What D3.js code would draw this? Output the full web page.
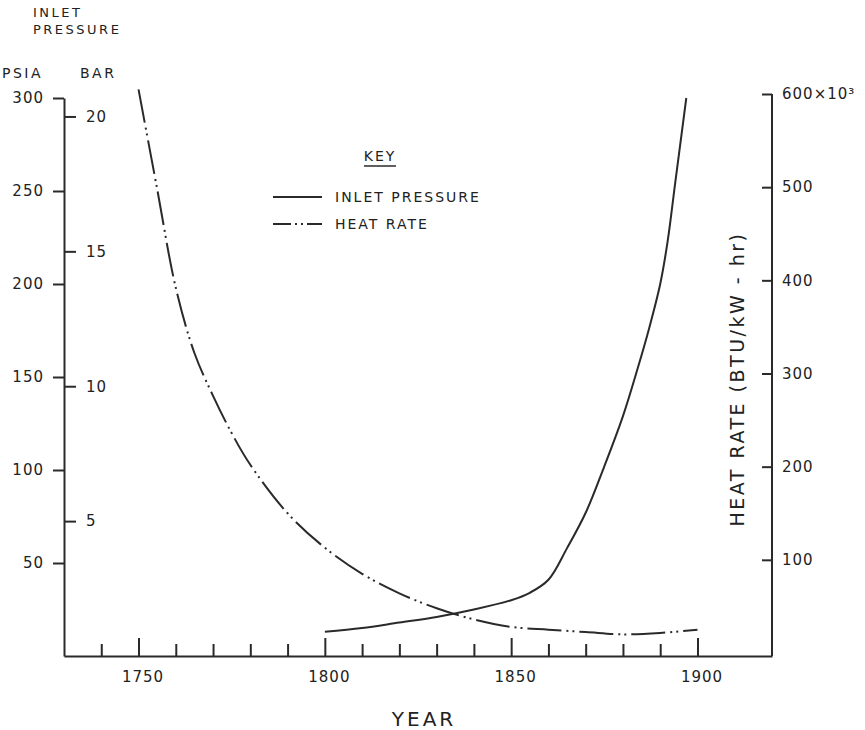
<!DOCTYPE html>
<html>
<head>
<meta charset="utf-8">
<script src="https://cdn.jsdelivr.net/npm/d3@7"></script>
<style>
  body { margin: 0; background: #fff; }
  svg text { font-family: "DejaVu Sans", sans-serif; fill: #222; }
</style>
</head>
<body>
<svg id="chart"></svg>
<script>
// chart size
var width = 865;
var height = 730;

// Data: inlet pressure (psia) and heat rate (10^3 BTU/kW-hr) by year
var pressureYears = [1800, 1810, 1820, 1830, 1840, 1850, 1855, 1860, 1865, 1870, 1875, 1880, 1884, 1887, 1890, 1892, 1894, 1897];
var pressurePsia  = [13, 15, 18, 21, 25, 30, 34, 41, 58, 77, 102, 129, 155, 176, 200, 223, 254, 300];

var heatYears = [1750, 1755, 1760, 1765, 1770, 1775, 1780, 1790, 1800, 1810, 1820, 1830, 1840, 1850, 1860, 1870, 1880, 1890, 1900];
var heatRate  = [605, 498, 392, 322, 276, 236, 202, 150, 113, 85, 64, 48, 36, 28, 25, 22.5, 20, 21.5, 25];

// tick values
var yearTicks = d3.range(1740, 1901, 10);
var psiaTicks = [50, 100, 150, 200, 250, 300];
var barTicks = [5, 10, 15, 20];
var heatTicks = [100, 200, 300, 400, 500, 600];

var svg = d3.select("#chart")
    .attr("width", width)
    .attr("height", height);

// Scales
var x = d3.scaleLinear().domain([1730, 1920]).range([64, 772]);
var yP = d3.scaleLinear().domain([0, 300]).range([656, 98]);
var yB = d3.scaleLinear().domain([0, 300 / 14.5038]).range([656, 98]);
var yH = d3.scaleLinear().domain([0, 600]).range([653, 94]);

var ink = "#2a2a2a";

function styleAxis(g) {
    g.selectAll("path, line").attr("stroke", ink).attr("stroke-width", 2);
    g.selectAll("text")
        .attr("font-family", "DejaVu Sans, sans-serif")
        .attr("font-size", 15)
        .attr("letter-spacing", 1)
        .attr("fill", "#222");
}

// Bottom (year) axis, ticks pointing up
var xAxis = svg.append("g")
    .attr("transform", "translate(0," + 656 + ")")
    .call(d3.axisBottom(x)
        .tickValues(yearTicks)
        .tickSizeInner(-12)
        .tickSizeOuter(0)
        .tickPadding(15)
        .tickFormat(d => d % 50 === 0 ? d : ""));
xAxis.selectAll(".tick line")
    .attr("y2", d => d % 50 === 0 ? -18 : -12);
xAxis.selectAll(".tick text").attr("dx", 4);
styleAxis(xAxis);

// Left psia axis
var pAxis = svg.append("g")
    .attr("transform", "translate(64,0)")
    .call(d3.axisLeft(yP)
        .tickValues(psiaTicks)
        .tickSizeInner(11)
        .tickSizeOuter(0)
        .tickPadding(9));
styleAxis(pAxis);

// Bar ticks on the right side of the left axis
var bAxis = svg.append("g")
    .attr("transform", "translate(64,0)")
    .call(d3.axisRight(yB)
        .tickValues(barTicks)
        .tickSizeInner(12)
        .tickSizeOuter(0)
        .tickPadding(10));
bAxis.select(".domain").remove();
styleAxis(bAxis);

// Right heat-rate axis, ticks inward
var hAxis = svg.append("g")
    .attr("transform", "translate(772,0)")
    .call(d3.axisRight(yH)
        .tickValues(heatTicks)
        .tickSizeInner(-10)
        .tickSizeOuter(0)
        .tickPadding(10)
        .tickFormat(d => d === 600 ? "600\u00d710\u00b3" : d));
styleAxis(hAxis);
hAxis.select(".domain").attr("d", "M0," + yH(600) + "V656");

// Axis titles
function label(xp, yp, txt, size, spacing) {
    return svg.append("text")
        .attr("x", xp).attr("y", yp)
        .attr("font-size", size)
        .attr("letter-spacing", spacing)
        .text(txt);
}
label(33, 17, "INLET", 13, 2.5);
label(33, 34, "PRESSURE", 13, 2.5);
label(2, 78, "PSIA", 14, 2.5);
label(80, 78, "BAR", 14, 2.5);

svg.append("text")
    .attr("x", 424).attr("y", 726)
    .attr("text-anchor", "middle")
    .attr("font-size", 20)
    .attr("letter-spacing", 3)
    .text("YEAR");

svg.append("text")
    .attr("transform", "translate(744,379) rotate(-90)")
    .attr("text-anchor", "middle")
    .attr("font-size", 19)
    .attr("letter-spacing", 2.5)
    .text("HEAT RATE  (BTU/kW - hr)");

// Lines
var pLine = d3.line()
    .x((d, i) => x(pressureYears[i]))
    .y(d => yP(d))
    .curve(d3.curveCatmullRom.alpha(0.5));

var hLine = d3.line()
    .x((d, i) => x(heatYears[i]))
    .y(d => yH(d))
    .curve(d3.curveCatmullRom.alpha(0.5));

var dashDot = "34,5,2,4,2,5";

svg.append("path")
    .attr("d", pLine(pressurePsia))
    .attr("fill", "none")
    .attr("stroke", ink)
    .attr("stroke-width", 2);

svg.append("path")
    .attr("d", hLine(heatRate))
    .attr("fill", "none")
    .attr("stroke", ink)
    .attr("stroke-width", 2)
    .attr("stroke-dasharray", dashDot);

// Key
var key = svg.append("g");
key.append("text").attr("x", 380).attr("y", 161).attr("text-anchor", "middle")
    .attr("font-size", 14).attr("letter-spacing", 2).text("KEY");
key.append("line").attr("x1", 364).attr("x2", 396).attr("y1", 166).attr("y2", 166)
    .attr("stroke", ink).attr("stroke-width", 1.5);
key.append("line").attr("x1", 273).attr("x2", 322).attr("y1", 197).attr("y2", 197)
    .attr("stroke", ink).attr("stroke-width", 2);
key.append("text").attr("x", 335).attr("y", 202).attr("font-size", 14)
    .attr("letter-spacing", 2).text("INLET PRESSURE");
key.append("line").attr("x1", 273).attr("x2", 322).attr("y1", 224).attr("y2", 224)
    .attr("stroke", ink).attr("stroke-width", 2)
    .attr("stroke-dasharray", "18,4,2,4,2,4");
key.append("text").attr("x", 335).attr("y", 229).attr("font-size", 14)
    .attr("letter-spacing", 2).text("HEAT RATE");
</script>
</body>
</html>
